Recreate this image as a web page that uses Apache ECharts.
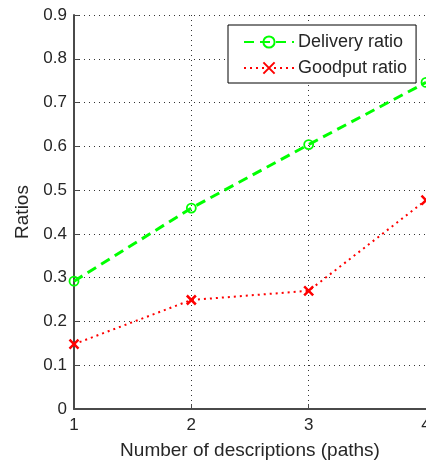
<!DOCTYPE html>
<html>
<head>
<meta charset="utf-8">
<script src="https://cdn.jsdelivr.net/npm/echarts@6/dist/echarts.min.js"></script>
<style>
  html, body { margin: 0; padding: 0; background: #fff; }
  #chart { width: 426px; height: 463px; }
</style>
</head>
<body>
<div id="chart"></div>
<script>
// Number of descriptions (paths) on the x axis
const paths = [1, 2, 3, 4];
// Ratios measured for each number of paths
const deliveryRatio = [0.292, 0.459, 0.604, 0.746];
const goodputRatio = [0.148, 0.249, 0.270, 0.477];
// Axis ranges and tick labels
const yTicks = ['0', '0.1', '0.2', '0.3', '0.4', '0.5', '0.6', '0.7', '0.8', '0.9'];

const FONT = '"Liberation Sans", Arial, Helvetica, sans-serif';
const TEXT = '#262626';
const AXIS = '#4a4a4a';

const chart = echarts.init(document.getElementById('chart'), null, { renderer: 'canvas' });

const gridLine = { show: true, lineStyle: { color: '#333', width: 1, type: [1, 4] } };

chart.setOption({
  animation: false,
  backgroundColor: '#fff',
  textStyle: { fontFamily: FONT, color: TEXT },
  grid: { left: 74, top: 15, right: 0, bottom: 54, containLabel: false, outerBoundsMode: 'none' },
  legend: {
    orient: 'vertical',
    left: 228,
    top: 25,
    padding: [8, 9, 6, 15],
    itemWidth: 50,
    itemHeight: 14,
    itemGap: 8,
    borderColor: '#000',
    borderWidth: 1,
    backgroundColor: '#fff',
    textStyle: { fontFamily: FONT, fontSize: 18, color: TEXT, padding: [0, 0, 0, -1] },
    data: ['Delivery ratio', 'Goodput ratio']
  },
  xAxis: {
    type: 'value',
    min: 1,
    max: 4,
    interval: 1,
    name: 'Number of descriptions (paths)',
    nameLocation: 'middle',
    nameGap: 32,
    nameTextStyle: { fontFamily: FONT, fontSize: 19, color: TEXT },
    axisLine: { show: true, lineStyle: { color: AXIS, width: 2 } },
    axisTick: { show: true, inside: true, length: 5, lineStyle: { color: AXIS, width: 1 } },
    axisLabel: { fontFamily: FONT, fontSize: 17, color: TEXT, margin: 8 },
    splitLine: gridLine
  },
  yAxis: {
    type: 'value',
    min: 0,
    max: 0.9,
    interval: 0.1,
    name: 'Ratios',
    nameLocation: 'middle',
    nameGap: 42,
    nameTextStyle: { fontFamily: FONT, fontSize: 19, color: TEXT },
    axisLine: { show: true, lineStyle: { color: AXIS, width: 2 } },
    axisTick: { show: true, inside: true, length: 5, lineStyle: { color: AXIS, width: 1 } },
    axisLabel: {
      fontFamily: FONT, fontSize: 17, color: TEXT, margin: 7,
      formatter: (v) => yTicks[Math.round(v * 10)] ?? ''
    },
    splitLine: gridLine
  },
  series: [
    {
      name: 'Delivery ratio',
      type: 'line',
      data: paths.map((p, i) => [p, deliveryRatio[i]]),
      symbol: 'circle',
      symbolSize: 9,
      clip: false,
      lineStyle: { color: '#00ff00', width: 3, type: [10, 6] },
      itemStyle: { color: 'rgba(0,0,0,0)', borderColor: '#00ff00', borderWidth: 1.8 },
      z: 3
    },
    {
      name: 'Goodput ratio',
      type: 'line',
      data: paths.map((p, i) => [p, goodputRatio[i]]),
      symbol: 'path://M0,0L10,10M0,10L10,0',
      symbolSize: 9,
      clip: false,
      lineStyle: { color: '#ff0000', width: 2, type: [2, 4] },
      itemStyle: { color: '#ff0000', borderColor: '#ff0000', borderWidth: 2.5 },
      z: 2
    }
  ]
});
</script>
</body>
</html>
